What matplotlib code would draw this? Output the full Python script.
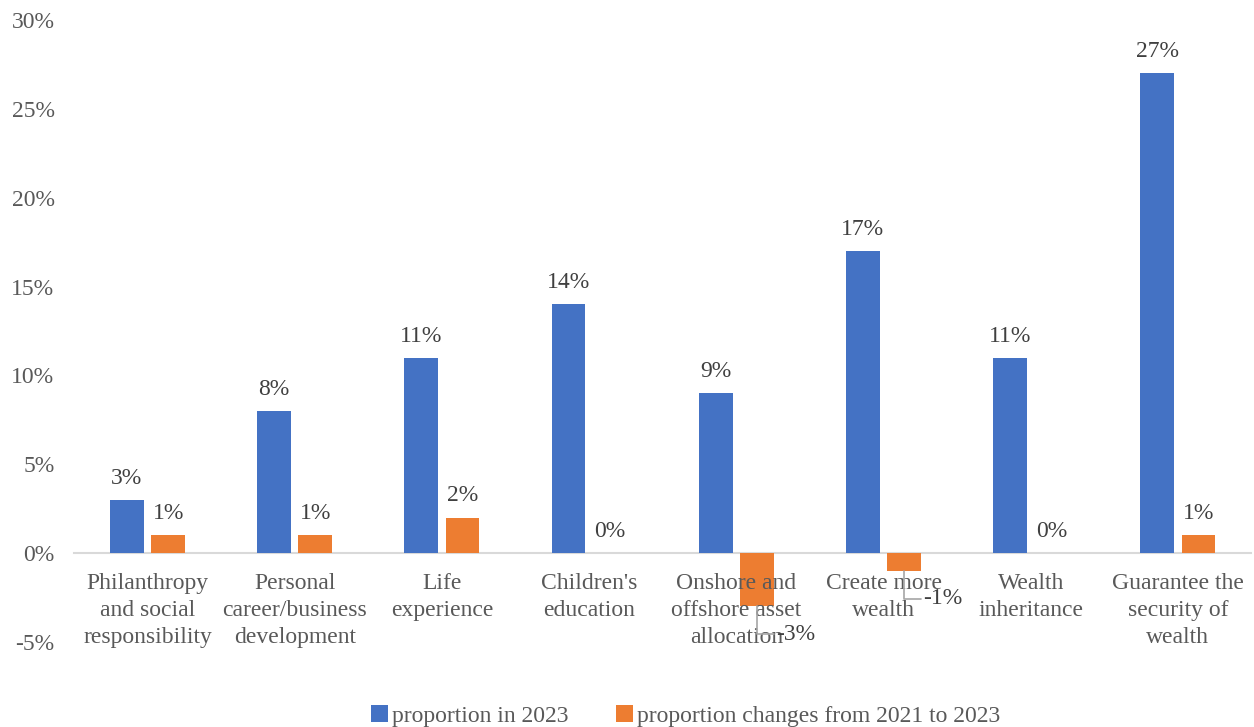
import matplotlib.pyplot as plt
import numpy as np

categories = ["Philanthropy\nand social\nresponsibility", "Personal\ncareer/business\ndevelopment",
              "Life\nexperience", "Children's\neducation", "Onshore and\noffshore asset\nallocation",
              "Create more\nwealth", "Wealth\ninheritance", "Guarantee the\nsecurity of\nwealth"]
share_2023 = [3, 8, 11, 14, 9, 17, 11, 27]
change_21_23 = [1, 1, 2, 0, -3, -1, 0, 1]

plt.rcParams['font.family'] = ['Liberation Serif', 'DejaVu Serif']

fig = plt.figure(figsize=(12.54, 7.27), dpi=100)
ax = fig.add_axes([0.059, 0.117, 0.939, 0.8555])

x = np.arange(len(categories))
w = 0.23
off = 0.14
b1 = ax.bar(x - off, share_2023, w, color='#4472C4', label='proportion in 2023', zorder=3)
b2 = ax.bar(x + off, change_21_23, w, color='#ED7D31', label='proportion changes from 2021 to 2023', zorder=3)

lab_col = '#404040'
for xi, v in zip(x, share_2023):
    ax.annotate(f'{v}%', (xi - off, v), xytext=(0, 8), textcoords='offset points',
                ha='center', va='bottom', fontsize=17, color=lab_col)
for xi, v in zip(x, change_21_23):
    if v >= 0:
        ax.annotate(f'{v}%', (xi + off, v), xytext=(0, 8), textcoords='offset points',
                    ha='center', va='bottom', fontsize=17, color=lab_col)
    else:
        ax.annotate(f'{v}%', (xi + off, v), xytext=(14, -20), textcoords='offset points',
                    ha='left', va='center', fontsize=17, color=lab_col, zorder=5,
                    arrowprops=dict(arrowstyle='-', color='#A6A6A6', lw=1.2,
                                    connectionstyle='angle,angleA=0,angleB=90,rad=0',
                                    shrinkA=0, shrinkB=0))

# category labels under the zero line (drawn over the negative bars, like Excel)
for xi, name in zip(x, categories):
    ax.annotate(name, (xi, 0), xytext=(0, -14.3), textcoords='offset points',
                ha='center', va='top', fontsize=17, color='#595959',
                linespacing=1.38, zorder=4)

ax.set_ylim(-5, 30)
ax.set_xlim(-0.5, len(categories) - 0.5)
ax.tick_params(axis='both', length=0, labelsize=17, labelcolor='#595959')
ax.tick_params(axis='y', pad=14)
ax.set_yticks(np.arange(-5, 31, 5))
ax.set_yticklabels([f'{t}%' for t in range(-5, 31, 5)])
ax.set_xticks([])

for s in ['top', 'right', 'left']:
    ax.spines[s].set_visible(False)
ax.spines['bottom'].set_position(('data', 0))
ax.spines['bottom'].set_color('#D9D9D9')
ax.spines['bottom'].set_linewidth(1.5)

fig.legend(handles=[b1, b2], loc='lower center', bbox_to_anchor=(0.547, -0.029), ncol=2,
           frameon=False, fontsize=17, handlelength=0.7, handleheight=0.7,
           handletextpad=0.2, columnspacing=2.0, labelcolor='#595959')

fig.savefig('out.png', dpi=100)
